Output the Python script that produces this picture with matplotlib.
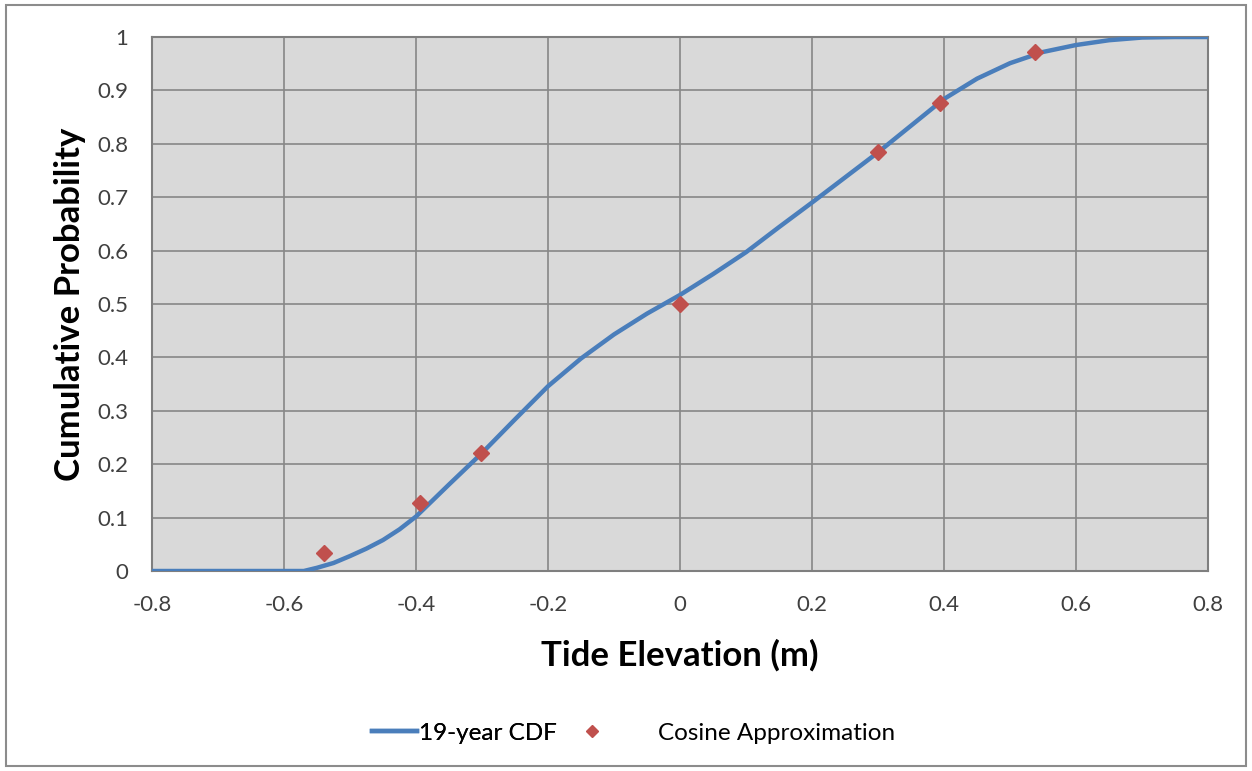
import matplotlib.pyplot as plt
from matplotlib.patches import Rectangle

# 19-year CDF
cdf_x = [-0.8, -0.7, -0.6, -0.57, -0.55, -0.525, -0.5, -0.475, -0.45, -0.425, -0.4,
         -0.35, -0.3, -0.25, -0.2, -0.15, -0.1, -0.05, 0.0, 0.05, 0.1, 0.15,
         0.2, 0.25, 0.3, 0.35, 0.4, 0.45, 0.5, 0.55, 0.6, 0.65, 0.7, 0.75, 0.8]
cdf_y = [0.0, 0.0, 0.0, 0.0, 0.006, 0.015, 0.028, 0.042, 0.058, 0.078, 0.102,
         0.162, 0.221, 0.284, 0.346, 0.398, 0.443, 0.482, 0.517, 0.556, 0.597, 0.644,
         0.69, 0.737, 0.784, 0.834, 0.884, 0.922, 0.951, 0.972, 0.985, 0.994, 0.999, 1.0, 1.0]

# cosine approximation points
cos_x = [-0.54, -0.394, -0.302, 0.0, 0.30, 0.394, 0.538]
cos_y = [0.034, 0.127, 0.221, 0.5, 0.785, 0.877, 0.971]

plt.rcParams['font.family'] = ['Lato', 'DejaVu Sans']

fig = plt.figure(figsize=(12.52, 7.71), dpi=100)
ax = fig.add_axes([0.1214, 0.2594, 0.8435, 0.6926])
ax.set_facecolor('#d9d9d9')

line, = ax.plot(cdf_x, cdf_y, color='#4a7ebb', lw=3.2, label='19-year CDF', zorder=3)
pts, = ax.plot(cos_x, cos_y, 'D', color='#c0504d', ms=8, ls='none',
               label='Cosine Approximation', zorder=4)

ax.set_xlim(-0.8, 0.8)
ax.set_ylim(0, 1)
ax.set_xticks([-0.8, -0.6, -0.4, -0.2, 0, 0.2, 0.4, 0.6, 0.8])
ax.set_xticklabels(['-0.8', '-0.6', '-0.4', '-0.2', '0', '0.2', '0.4', '0.6', '0.8'])
ax.set_yticks([i / 10 for i in range(11)])
ax.set_yticklabels(['0', '0.1', '0.2', '0.3', '0.4', '0.5', '0.6', '0.7', '0.8', '0.9', '1'])
ax.tick_params(length=0, labelsize=16, colors='#404040')
ax.tick_params(axis='x', pad=17)
ax.tick_params(axis='y', pad=17)
ax.grid(True, color='#878787', lw=1.2)
ax.set_axisbelow(True)
for s in ax.spines.values():
    s.set_color('#7f7f7f')
    s.set_linewidth(1.5)

ax.set_xlabel('Tide Elevation (m)', fontsize=25, fontweight='bold', labelpad=17.5)
ax.set_ylabel('Cumulative Probability', fontsize=25, fontweight='bold', labelpad=8)

# two legends so the spacing of each entry can follow the original
leg1 = fig.legend(handles=[line], loc='center left', bbox_to_anchor=(372 / 1252, 0.049),
                  frameon=False, fontsize=17.5, handlelength=1.85, handletextpad=0.1,
                  borderpad=0, borderaxespad=0)
leg2 = fig.legend(handles=[pts], loc='center left', bbox_to_anchor=(568 / 1252, 0.049),
                  frameon=False, fontsize=17.5, handlelength=2.0, handletextpad=1.7,
                  borderpad=0, borderaxespad=0, markerscale=0.8)
fig.add_artist(leg1)

fig.patches.append(Rectangle((0.005, 0.007), 0.99, 0.986, transform=fig.transFigure,
                             fill=False, edgecolor='#8c8c8c', lw=1.5))

fig.savefig('out.png', dpi=100)
